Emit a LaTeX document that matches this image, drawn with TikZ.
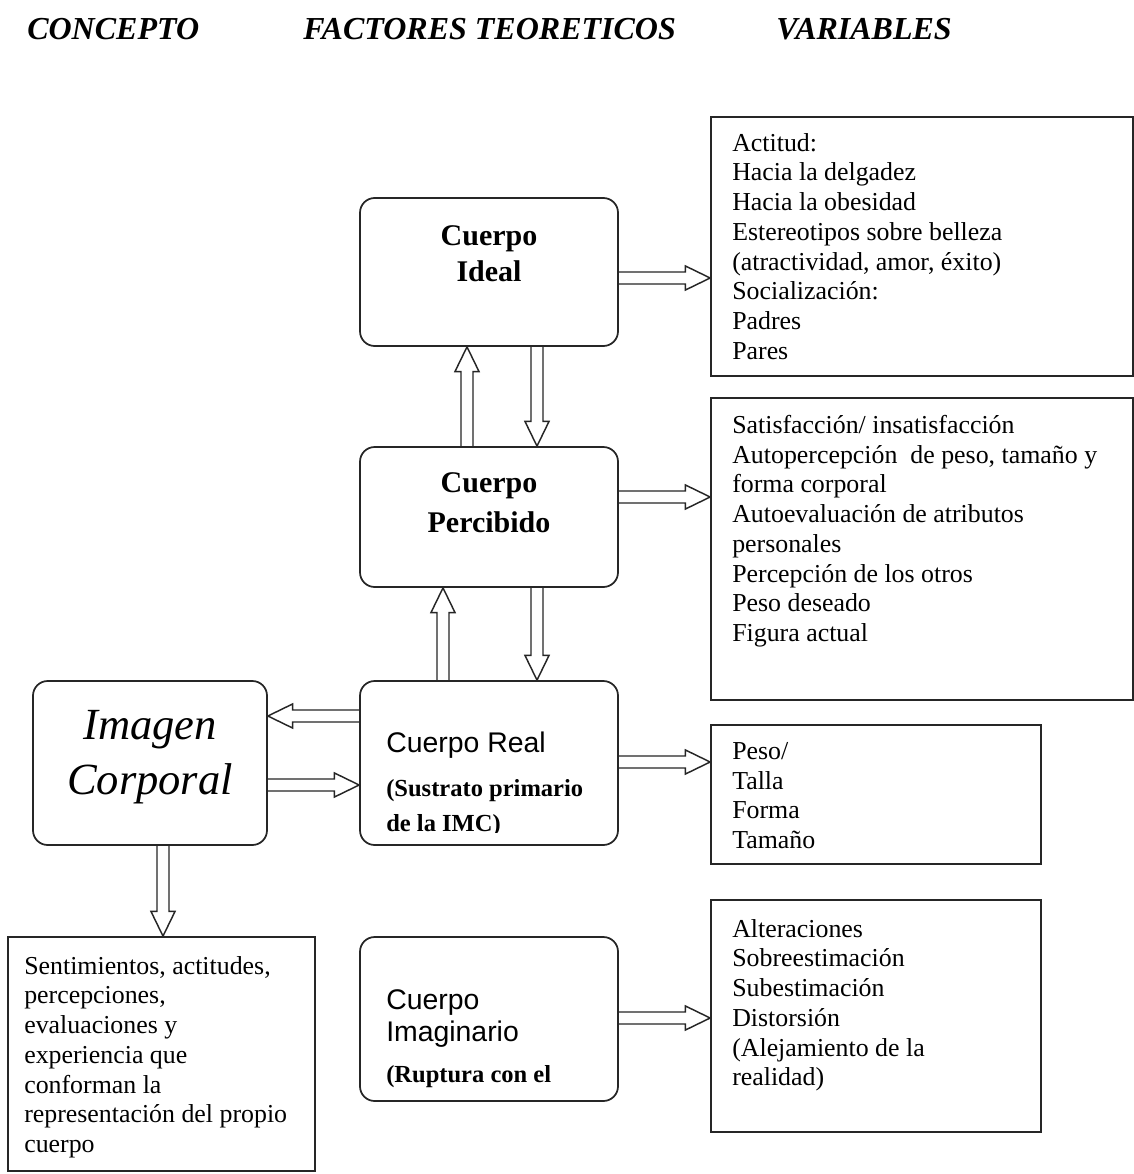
\documentclass[tikz,border=0pt]{standalone}
\usepackage{fontspec}
\setmainfont{Liberation Serif}
\newfontfamily\arialf{Liberation Sans}
\usetikzlibrary{calc}
\tikzset{
  rbox/.style={draw=black!85, line width=1.3pt, rounded corners=11pt, inner sep=0pt},
  sbox/.style={draw=black!85, line width=1.3pt, inner sep=0pt},
  arrline/.style={draw=black!85, line width=1.1pt, line join=miter},
  hdr/.style={font=\fontsize{24}{28}\selectfont\bfseries\itshape, anchor=base west, inner sep=0pt},
  ttl/.style={font=\fontsize{22.5}{26}\selectfont\bfseries, align=center, inner sep=0pt},
  sanst/.style={font=\arialf\fontsize{21.3}{25}\selectfont, anchor=west, inner sep=0pt},
  subt/.style={font=\fontsize{18.4}{22}\selectfont\bfseries, anchor=west, inner sep=0pt},
  listt/.style={font=\fontsize{19.4}{22.3}\selectfont, align=left, anchor=north west, inner sep=0pt},
}
\def\aw{4.5pt}
\def\ahw{9pt}
\def\ah{18.5pt}
\newcommand\hollowarrow[2]{%
  \coordinate (hA) at (#1);
  \coordinate (hB) at (#2);
  \coordinate (hC) at ($(hB)!\ah!(hA)$);
  \draw[arrline] ($(hA)!\aw!90:(hB)$) -- ($(hC)!\aw!-90:(hA)$) -- ($(hC)!\ahw!-90:(hA)$) -- (hB)
    -- ($(hC)!\ahw!90:(hA)$) -- ($(hC)!\aw!90:(hA)$) -- ($(hA)!\aw!-90:(hB)$);}
\begin{document}
\begin{tikzpicture}[x=0.75pt,y=-0.75pt]
\useasboundingbox[fill=white] (0,0) rectangle (1134,1174);

% headers
\node[hdr] (h1) at (27,39) {CONCEPTO};
\node[hdr] (h2) at (303,39) {FACTORES TEORETICOS};
\node[hdr] (h3) at (776,39) {VARIABLES};

% factor boxes
\node[rbox, minimum width={258*0.75pt}, minimum height={148*0.75pt}] (ideal) at (489,272) {};
\node[rbox, minimum width={258*0.75pt}, minimum height={140*0.75pt}] (perc) at (489,517) {};
\node[rbox, minimum width={258*0.75pt}, minimum height={164*0.75pt}] (real) at (489,763) {};
\node[rbox, minimum width={234*0.75pt}, minimum height={164*0.75pt}] (imagen) at (150,763) {};
\node[rbox, minimum width={258*0.75pt}, minimum height={164*0.75pt}] (imag) at (489,1019) {};
\node[sbox, minimum width={307*0.75pt}, minimum height={234*0.75pt}] (sent) at (161.5,1054) {};

% variable boxes
\node[sbox, minimum width={422*0.75pt}, minimum height={259*0.75pt}] (box1) at (922,246.5) {};
\node[sbox, minimum width={422*0.75pt}, minimum height={302*0.75pt}] (box2) at (922,549) {};
\node[sbox, minimum width={330*0.75pt}, minimum height={139*0.75pt}] (box3) at (876,794.5) {};
\node[sbox, minimum width={330*0.75pt}, minimum height={232*0.75pt}] (box4) at (876,1016) {};

% texts
\node[ttl] (idealt) at (489,254) {Cuerpo\\[1pt]Ideal};
\node[ttl] (perct) at (489,503) {Cuerpo\\[4pt]Percibido};
\node[sanst] (realt1) at (386,745) {Cuerpo Real};
\node[subt] (realt2) at (386,791) {(Sustrato primario};
\begin{scope}
\clip (360,760) rectangle (618,832);
\node[subt] (realt3) at (386,826) {de la IMC)};
\end{scope}
\node[font=\fontsize{33.4}{41}\selectfont\itshape, align=center, inner sep=0pt] (imagent) at (150,757) {Imagen\\Corporal};
\node[sanst] (imagt1) at (386,1003) {Cuerpo};
\node[sanst] (imagt2) at (386,1034) {Imaginario};
\node[subt] (imagt3) at (386,1077) {(Ruptura con el};

\node[listt] (sentt) at (24,956) {Sentimientos, actitudes,\\percepciones,\\evaluaciones y\\experiencia que\\conforman la\\representación del propio\\cuerpo};
\node[listt] (box1t) at (732,133) {Actitud:\\Hacia la delgadez\\Hacia la obesidad\\Estereotipos sobre belleza\\(atractividad, amor, éxito)\\Socialización:\\Padres\\Pares};
\node[listt] (box2t) at (732,415) {Satisfacción/ insatisfacción\\Autopercepción\ \ de peso, tamaño y\\forma corporal\\Autoevaluación de atributos\\personales\\Percepción de los otros\\Peso deseado\\Figura actual};
\node[listt] (box3t) at (732,742) {Peso/\\Talla\\Forma\\Tamaño};
\node[listt] (box4t) at (732,919) {Alteraciones\\Sobreestimación\\Subestimación\\Distorsión\\(Alejamiento de la\\realidad)};

% arrows
\hollowarrow{ideal.east |- 0,278}{box1.west |- 0,278}
\hollowarrow{perc.east |- 0,497}{box2.west |- 0,497}
\hollowarrow{real.east |- 0,762}{box3.west |- 0,762}
\hollowarrow{imag.east |- 0,1018}{box4.west |- 0,1018}
\hollowarrow{perc.north -| 467,0}{ideal.south -| 467,0}
\hollowarrow{ideal.south -| 537,0}{perc.north -| 537,0}
\hollowarrow{real.north -| 443,0}{perc.south -| 443,0}
\hollowarrow{perc.south -| 537,0}{real.north -| 537,0}
\hollowarrow{real.west |- 0,716}{imagen.east |- 0,716}
\hollowarrow{imagen.east |- 0,785}{real.west |- 0,785}
\hollowarrow{imagen.south -| 163,0}{sent.north -| 163,0}
\end{tikzpicture}
\end{document}
